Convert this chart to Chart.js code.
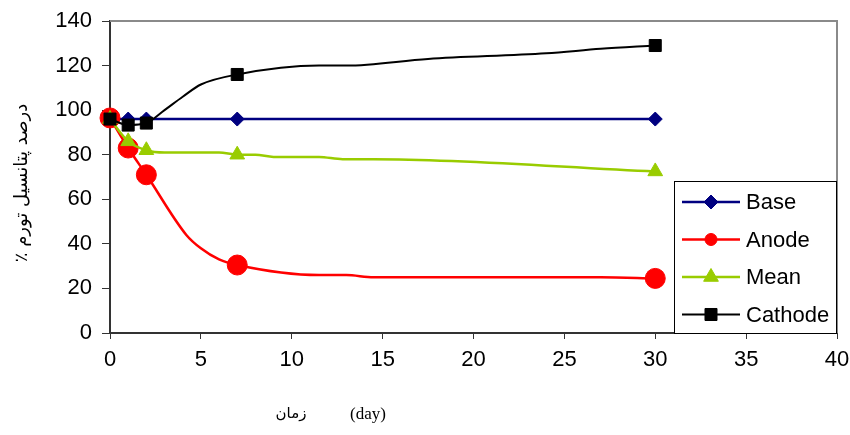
<!DOCTYPE html>
<html>
<head>
<meta charset="utf-8">
<script src="https://cdn.jsdelivr.net/npm/chart.js@4.4.1/dist/chart.umd.min.js"></script>
<style>
	html, body { margin: 0; padding: 0; background: #fff; }
</style>
</head>
<body>
<canvas id="swelling-chart" width="850" height="435"></canvas>
<script>
// measured days (markers are drawn only on these)
const markerDays = [0, 1, 2, 7, 30];

const baseDays = [0, 1, 2, 7, 30];
const baseValues = [96, 96, 96, 96, 96];

const anodeDays = [0, 1, 2, 4.2, 5, 6, 7, 11.5, 13, 14.5, 27, 30];
const anodeValues = [96.5, 83, 71, 44, 38, 33, 30.5, 26, 26, 25, 25, 24.5];

const meanDays = [0, 1, 2, 3, 6, 7, 8, 9, 11.5, 12.8, 14.5, 30];
const meanValues = [96, 86, 82, 81, 81, 80, 80, 79, 79, 78, 78, 72.5];

const cathodeDays = [0, 1, 2, 3, 4, 5, 7, 11.5, 13, 17.5, 24, 27, 30];
const cathodeValues = [96, 93.3, 94.2, 100, 106, 111.5, 116, 120, 120, 123, 125.5, 127.5, 129];

const seriesNames = ["Base", "Anode", "Mean", "Cathode"];

const xRange = { min: 0, max: 40, step: 5 };
const yRange = { min: 0, max: 140, step: 20 };

const xTitleFa = "زمان";
const xTitleUnit = "(day)";
const yTitle = "درصد پتانسیل تورم ٪";

const sansFont = "'Liberation Sans', Arial, sans-serif";

const toPoints = (days, values) => days.map((d, i) => ({ x: d, y: values[i] }));

const makeSeries = (label, days, values, color, style, radius, legendRadius, width) => ({
	label,
	data: toPoints(days, values),
	borderColor: color,
	backgroundColor: color,
	borderWidth: width,
	pointStyle: style,
	pointBackgroundColor: color,
	pointBorderColor: color,
	pointBorderWidth: 1,
	pointRadius: ctx => (markerDays.includes(ctx.raw.x) ? radius : 0),
	legendRadius,
	cubicInterpolationMode: "monotone",
	clip: false,
});

const frameAndLegend = {
	id: "frameAndLegend",
	beforeDatasetsDraw(chart) {
		const { ctx, chartArea: a } = chart;
		ctx.save();
		ctx.strokeStyle = "#8a8a8a";
		ctx.lineWidth = 2;
		ctx.beginPath();
		ctx.moveTo(a.left, a.top);
		ctx.lineTo(a.right, a.top);
		ctx.lineTo(a.right, a.bottom);
		ctx.stroke();
		ctx.restore();
	},
	afterDraw(chart) {
		const { ctx, chartArea: a } = chart;
		ctx.save();

		// legend box, bottom right inside the plot
		const bw = 162, bh = 152;
		const bx = a.right - bw - 1, by = a.bottom - bh;
		ctx.fillStyle = "#fff";
		ctx.fillRect(bx, by, bw, bh);
		ctx.strokeStyle = "#000";
		ctx.lineWidth = 1;
		ctx.strokeRect(bx + 0.5, by + 0.5, bw, bh);

		chart.data.datasets.forEach((ds, i) => {
			const y = by + 21 + i * 37.5;
			ctx.strokeStyle = ds.borderColor;
			ctx.lineWidth = ds.borderWidth;
			ctx.beginPath();
			ctx.moveTo(bx + 8, y);
			ctx.lineTo(bx + 66, y);
			ctx.stroke();
			ctx.fillStyle = ds.borderColor;
			ctx.lineWidth = 1;
			Chart.helpers.drawPoint(ctx, { pointStyle: ds.pointStyle, radius: ds.legendRadius, borderWidth: 1, rotation: 0 }, bx + 37, y);
			ctx.fillStyle = "#000";
			ctx.font = "22px " + sansFont;
			ctx.textBaseline = "middle";
			ctx.textAlign = "left";
			ctx.fillText(ds.label, bx + 72, y + 1);
		});

		// x axis title
		ctx.fillStyle = "#000";
		ctx.textBaseline = "middle";
		ctx.textAlign = "center";
		ctx.font = "15px 'DejaVu Sans'";
		ctx.fillText(xTitleFa, a.left + 181, 414);
		ctx.font = "17px 'Liberation Serif', serif";
		ctx.fillText(xTitleUnit, a.left + 258, 415);

		// y axis title
		ctx.translate(22, 183);
		ctx.rotate(-Math.PI / 2);
		ctx.direction = "rtl";
		ctx.font = "18px 'DejaVu Sans'";
		ctx.fillText(yTitle, 0, 0);
		ctx.restore();
	},
};

const getChart = () => {
	const ctx = document.getElementById("swelling-chart");

	new Chart(ctx, {
		type: "line",
		data: {
			datasets: [
				{ ...makeSeries(seriesNames[0], baseDays, baseValues, "#000080", "rectRot", 7, 7, 2.5), order: 3 },
				{ ...makeSeries(seriesNames[1], anodeDays, anodeValues, "#ff0000", "circle", 10, 6, 2.5), order: 2 },
				{ ...makeSeries(seriesNames[2], meanDays, meanValues, "#99cc00", "triangle", 8.5, 8.5, 2.5), order: 1 },
				{ ...makeSeries(seriesNames[3], cathodeDays, cathodeValues, "#000000", "rect", 8.5, 8.5, 2), order: 0 },
			],
		},
		options: {
			responsive: false,
			devicePixelRatio: 1,
			animation: false,
			layout: { padding: { top: 21, right: 13, left: 0, bottom: 0 } },
			plugins: {
				legend: { display: false },
				tooltip: { enabled: false },
			},
			scales: {
				x: {
					type: "linear",
					min: xRange.min,
					max: xRange.max,
					afterFit: scale => {
						scale.height = 102;
						scale.paddingLeft = 0;
						scale.paddingRight = 0;
					},
					ticks: {
						stepSize: xRange.step,
						color: "#000",
						padding: 8,
						maxRotation: 0,
						font: { family: sansFont, size: 22 },
					},
					grid: { drawOnChartArea: false, drawTicks: true, tickLength: 6, color: "#333", lineWidth: 1 },
					border: { color: "#333", width: 2 },
				},
				y: {
					min: yRange.min,
					max: yRange.max,
					afterFit: scale => {
						scale.width = 110;
						scale.paddingTop = 0;
						scale.paddingBottom = 0;
					},
					ticks: {
						stepSize: yRange.step,
						color: "#000",
						padding: 10,
						font: { family: sansFont, size: 22 },
					},
					grid: { drawOnChartArea: false, drawTicks: true, tickLength: 8, color: "#333", lineWidth: 1 },
					border: { color: "#333", width: 2 },
				},
			},
		},
		plugins: [frameAndLegend],
	});
};

getChart();
</script>
</body>
</html>
